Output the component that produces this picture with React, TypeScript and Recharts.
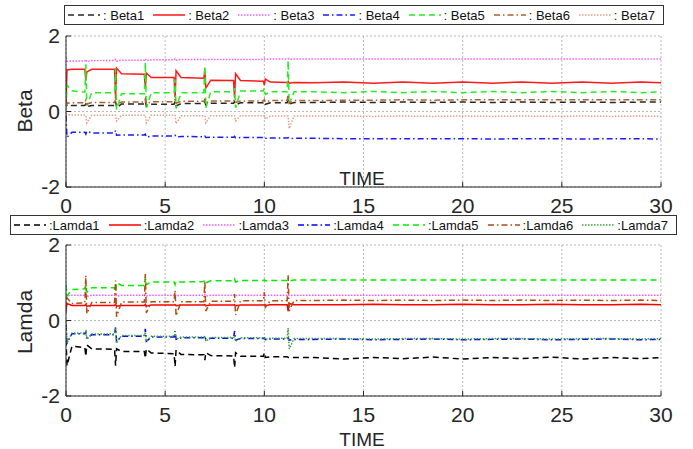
import { LineChart, Line, XAxis, YAxis, CartesianGrid } from "recharts";

// time stamps (s): start-up, 8 switching events, then steady state
const time = [
  0, 0.05, 0.3,
  0.95, 1, 1.05, 1.3,
  2.45, 2.5, 2.55, 2.8,
  3.95, 4, 4.05, 4.3,
  5.45, 5.5, 5.55, 5.8,
  6.95, 7, 7.05, 7.3,
  8.45, 8.5, 8.55, 8.8,
  9.95, 10, 10.05, 10.3,
  11.15, 11.2, 11.25, 11.5,
  12.5, 14, 15.5, 17, 18.5, 20, 21.5, 23, 24.5, 26, 27.5, 29, 30,
];

const beta1 = [
  0.3, 0.14, 0.16,
  0.16, 0.2, 0.13, 0.16,
  0.16, 0.27, 0.1, 0.2,
  0.2, 0.28, 0.14, 0.19,
  0.19, 0.27, 0.15, 0.21,
  0.21, 0.26, 0.17, 0.22,
  0.22, 0.26, 0.18, 0.23,
  0.23, 0.26, 0.19, 0.23,
  0.23, 0.3, 0.2, 0.24,
  0.24, 0.25, 0.24, 0.25, 0.24, 0.25, 0.24, 0.25, 0.24, 0.25, 0.24, 0.25, 0.25,
];
const beta2 = [
  0.2, 1.1, 1.12,
  1.12, 0.82, 1.05, 1.12,
  1.12, 0.33, 1.15, 1.0,
  0.99, 0.6, 1.02, 0.9,
  0.9, 0.37, 1.08, 0.9,
  0.88, 1.1, 0.62, 0.83,
  0.82, 0.36, 1.0, 0.82,
  0.8, 0.7, 0.86, 0.78,
  0.77, 0.8, 0.75, 0.77,
  0.76, 0.78, 0.75, 0.78, 0.75, 0.78, 0.75, 0.78, 0.75, 0.78, 0.75, 0.78, 0.76,
];
const beta3 = [
  1.42, 1.33, 1.34,
  1.34, 1.38, 1.32, 1.35,
  1.35, 1.38, 1.33, 1.36,
  1.36, 1.4, 1.35, 1.37,
  1.37, 1.4, 1.36, 1.38,
  1.38, 1.4, 1.37, 1.38,
  1.38, 1.4, 1.37, 1.38,
  1.38, 1.4, 1.38, 1.39,
  1.39, 1.4, 1.38, 1.39,
  1.39, 1.39, 1.39, 1.39, 1.39, 1.39, 1.39, 1.39, 1.39, 1.39, 1.39, 1.39, 1.39,
];
const beta4 = [
  -0.1, -0.68, -0.55,
  -0.55, -0.6, -0.52, -0.57,
  -0.57, -0.5, -0.63, -0.62,
  -0.62, -0.6, -0.68, -0.65,
  -0.65, -0.63, -0.68, -0.66,
  -0.67, -0.65, -0.69, -0.68,
  -0.68, -0.66, -0.7, -0.69,
  -0.69, -0.68, -0.71, -0.7,
  -0.7, -0.69, -0.72, -0.71,
  -0.71, -0.72, -0.72, -0.72, -0.72, -0.72, -0.73, -0.72, -0.72, -0.73, -0.72, -0.72, -0.73,
];
const beta5 = [
  0.1, 0.7, 0.55,
  0.51, 1.25, 0.15, 0.5,
  0.5, 1.15, 0.05, 0.47,
  0.47, 1.3, 0.1, 0.5,
  0.5, 0.85, 0.08, 0.5,
  0.5, 1.2, 0.1, 0.52,
  0.52, 0.62, 0.1, 0.54,
  0.54, 0.62, 0.45, 0.52,
  0.52, 1.35, 0.2, 0.52,
  0.52, 0.5, 0.53, 0.5, 0.53, 0.5, 0.53, 0.5, 0.53, 0.5, 0.53, 0.5, 0.52,
];
const beta6 = [
  0.3, 0.22, 0.23,
  0.23, 0.3, 0.2, 0.24,
  0.24, 0.32, 0.18, 0.25,
  0.25, 0.33, 0.2, 0.26,
  0.26, 0.33, 0.22, 0.27,
  0.27, 0.32, 0.23, 0.28,
  0.28, 0.32, 0.24, 0.28,
  0.28, 0.32, 0.25, 0.29,
  0.29, 0.45, 0.22, 0.29,
  0.29, 0.3, 0.3, 0.31, 0.3, 0.31, 0.31, 0.31, 0.31, 0.31, 0.31, 0.31, 0.31,
];
const beta7 = [
  -0.05, -0.08, -0.09,
  -0.09, -0.1, -0.3, -0.1,
  -0.1, -0.1, -0.25, -0.1,
  -0.1, -0.1, -0.3, -0.1,
  -0.1, -0.1, -0.32, -0.11,
  -0.11, -0.11, -0.3, -0.11,
  -0.11, -0.11, -0.25, -0.11,
  -0.11, -0.11, -0.2, -0.12,
  -0.12, -0.12, -0.45, -0.12,
  -0.12, -0.12, -0.13, -0.12, -0.13, -0.12, -0.13, -0.12, -0.13, -0.12, -0.13, -0.12, -0.13,
];

const lamda1 = [
  -0.5, -1.2, -0.68,
  -0.72, -0.95, -0.65, -0.75,
  -0.76, -1.2, -0.75, -0.82,
  -0.82, -1.0, -0.75, -0.86,
  -0.88, -1.22, -0.78, -0.9,
  -0.91, -1.05, -0.85, -0.93,
  -0.94, -1.25, -0.85, -0.95,
  -0.95, -0.85, -0.98, -0.96,
  -0.96, -0.98, -0.97, -0.98,
  -0.98, -1.02, -0.98, -1.01, -0.97, -1.02, -0.98, -1.01, -0.97, -1.02, -0.98, -1.01, -0.98,
];
const lamda2 = [
  0.3, 0.45, 0.4,
  0.4, 0.43, 0.38, 0.4,
  0.4, 0.43, 0.38, 0.4,
  0.4, 0.43, 0.38, 0.41,
  0.41, 0.42, 0.39, 0.41,
  0.41, 0.42, 0.39, 0.41,
  0.41, 0.42, 0.39, 0.41,
  0.41, 0.42, 0.4, 0.42,
  0.42, 0.25, 0.45, 0.42,
  0.42, 0.42, 0.43, 0.42, 0.42, 0.43, 0.42, 0.42, 0.43, 0.42, 0.42, 0.43, 0.42,
];
const lamda3 = [
  0.7, 0.66, 0.67,
  0.67, 0.7, 0.64, 0.67,
  0.67, 0.7, 0.64, 0.67,
  0.67, 0.7, 0.65, 0.67,
  0.67, 0.7, 0.65, 0.67,
  0.67, 0.69, 0.65, 0.67,
  0.67, 0.69, 0.66, 0.67,
  0.67, 0.69, 0.66, 0.67,
  0.67, 0.69, 0.66, 0.67,
  0.67, 0.67, 0.67, 0.67, 0.67, 0.67, 0.67, 0.67, 0.67, 0.67, 0.67, 0.67, 0.67,
];
const lamda4 = [
  -0.1, -0.6, -0.35,
  -0.35, -0.3, -0.45, -0.38,
  -0.38, -0.18, -0.55, -0.42,
  -0.42, -0.22, -0.55, -0.44,
  -0.44, -0.28, -0.5, -0.46,
  -0.46, -0.43, -0.5, -0.47,
  -0.47, -0.28, -0.52, -0.48,
  -0.48, -0.46, -0.51, -0.49,
  -0.49, -0.46, -0.52, -0.5,
  -0.5, -0.49, -0.51, -0.5, -0.49, -0.51, -0.5, -0.49, -0.51, -0.5, -0.49, -0.51, -0.5,
];
const lamda5 = [
  0.95, 0.65, 0.82,
  0.84, 0.95, 0.75, 0.87,
  0.87, 0.75, 1.0, 0.93,
  0.93, 1.15, 0.95, 1.02,
  1.02, 0.95, 1.03, 1.02,
  1.03, 1.08, 1.0, 1.05,
  1.05, 1.1, 1.02, 1.06,
  1.06, 1.08, 1.05, 1.06,
  1.06, 1.08, 1.05, 1.07,
  1.07, 1.07, 1.07, 1.07, 1.07, 1.07, 1.07, 1.07, 1.07, 1.07, 1.07, 1.07, 1.07,
];
const lamda6 = [
  0.2, 0.6, 0.45,
  0.47, 1.19, 0.18, 0.48,
  0.48, 1.06, 0.1, 0.49,
  0.49, 1.23, 0.2, 0.5,
  0.5, 0.8, 0.12, 0.5,
  0.5, 1.05, 0.25, 0.51,
  0.51, 0.7, 0.15, 0.52,
  0.52, 0.75, 0.35, 0.52,
  0.52, 1.2, 0.25, 0.53,
  0.53, 0.54, 0.53, 0.54, 0.53, 0.54, 0.53, 0.54, 0.53, 0.54, 0.53, 0.54, 0.53,
];
const lamda7 = [
  0.0, -0.6, -0.33,
  -0.33, -0.3, -0.5, -0.36,
  -0.36, -0.2, -0.6, -0.4,
  -0.4, -0.3, -0.55, -0.42,
  -0.42, -0.35, -0.5, -0.44,
  -0.44, -0.4, -0.55, -0.45,
  -0.45, -0.4, -0.55, -0.46,
  -0.46, -0.44, -0.5, -0.47,
  -0.47, -0.2, -0.75, -0.48,
  -0.48, -0.48, -0.49, -0.48, -0.48, -0.49, -0.48, -0.48, -0.49, -0.48, -0.48, -0.49, -0.48,
];

const betaNames = ["Beta1", "Beta2", "Beta3", "Beta4", "Beta5", "Beta6", "Beta7"];
const lamdaNames = ["Lamda1", "Lamda2", "Lamda3", "Lamda4", "Lamda5", "Lamda6", "Lamda7"];
const xTicks = [0, 5, 10, 15, 20, 25, 30];
const yTicks = [-2, 0, 2];

const DASH = "6 4";
const DOT = "1.5 1.5";
const DASHDOT = "6 3 1.5 3";

type Style = { color: string; dash?: string };

const betaStyles: Style[] = [
  { color: "#262626", dash: DASH },
  { color: "#ff1a1a" },
  { color: "#ff5cff", dash: DOT },
  { color: "#1a1aff", dash: DASHDOT },
  { color: "#22ee22", dash: DASH },
  { color: "#b0602c", dash: DASHDOT },
  { color: "#e0a08a", dash: DOT },
];
const lamdaStyles: Style[] = [
  { color: "#000000", dash: DASH },
  { color: "#ff0000" },
  { color: "#ff55ff", dash: DOT },
  { color: "#0000ff", dash: DASHDOT },
  { color: "#00ee00", dash: DASH },
  { color: "#b04a10", dash: DASHDOT },
  { color: "#3da53d", dash: DOT },
];

const FONT = "'Liberation Sans', Arial, sans-serif";
const INK = "#262626";

const buildRows = (series: number[][]) =>
  time.map((t, i) => {
    const row: Record<string, number> = { t };
    series.forEach((s, k) => {
      row["s" + k] = s[i];
    });
    return row;
  });

const betaRows = buildRows([beta1, beta2, beta3, beta4, beta5, beta6, beta7]);
const lamdaRows = buildRows([lamda1, lamda2, lamda3, lamda4, lamda5, lamda6, lamda7]);

const Legend = ({ names, styles, left, top, width, itemWidth, sep }: any) => (
  <div
    style={{
      position: "absolute",
      left,
      top,
      width,
      height: 20,
      border: "1px solid #333",
      background: "#fff",
      display: "flex",
      alignItems: "center",
      paddingLeft: 2,
      boxSizing: "border-box",
      fontFamily: FONT,
      fontSize: 13,
      color: "#111",
      whiteSpace: "nowrap",
    }}
  >
    {names.map((n: string, i: number) => (
      <div key={n} style={{ width: itemWidth, display: "flex", alignItems: "center" }}>
        <svg width={34} height={10} style={{ marginRight: 2 }}>
          <line x1={1} y1={5} x2={33} y2={5} stroke={styles[i].color} strokeWidth={1.5} strokeDasharray={styles[i].dash} />
        </svg>
        <span>{sep + n}</span>
      </div>
    ))}
  </div>
);

// plot area is always x 66..661, y 36..187 inside each chart's svg
const Panel = ({ rows, styles, top, height }: { rows: any[]; styles: Style[]; top: number; height: number }) => (
  <div style={{ position: "absolute", left: 0, top }}>
    <LineChart width={693} height={height} data={rows} margin={{ top: 36, right: 32, left: 6, bottom: height - 215 }}>
      <CartesianGrid stroke="#b8b8b8" strokeDasharray="2 2" />
      <XAxis
        dataKey="t"
        type="number"
        domain={[0, 30]}
        ticks={xTicks}
        interval={0}
        allowDataOverflow
        height={28}
        tickSize={-5}
        tickMargin={16}
        stroke={INK}
        tick={{ fill: INK, fontSize: 21, fontFamily: FONT }}
      />
      <XAxis xAxisId="top" orientation="top" type="number" domain={[0, 30]} ticks={xTicks} height={0} tickSize={-5} tick={false} stroke={INK} />
      <YAxis
        type="number"
        domain={[-2, 2]}
        ticks={yTicks}
        interval={0}
        allowDataOverflow
        width={60}
        tickSize={-5}
        tickMargin={11}
        stroke={INK}
        tick={{ fill: INK, fontSize: 21, fontFamily: FONT }}
      />
      <YAxis yAxisId="right" orientation="right" type="number" domain={[-2, 2]} ticks={yTicks} width={0} tickSize={-5} tick={false} stroke={INK} />
      {styles.map((s, k) => (
        <Line
          key={k}
          dataKey={"s" + k}
          type="linear"
          stroke={s.color}
          strokeWidth={1.5}
          strokeDasharray={s.dash}
          dot={false}
          isAnimationActive={false}
        />
      ))}
    </LineChart>
  </div>
);

export default function App() {
  return (
    <div style={{ position: "absolute", left: 0, top: 0, width: 693, height: 449, background: "#fff", overflow: "hidden" }}>
      <Panel rows={betaRows} styles={betaStyles} top={0} height={230} />
      <Panel rows={lamdaRows} styles={lamdaStyles} top={209} height={240} />
      <svg width={693} height={449} style={{ position: "absolute", left: 0, top: 0, pointerEvents: "none" }}>
        <g fontFamily={FONT} fill={INK}>
          <text x={362} y={185} fontSize={19} textAnchor="middle">TIME</text>
          <text x={362} y={446} fontSize={19} textAnchor="middle">TIME</text>
          <text transform="translate(32,111) rotate(-90)" fontSize={21} textAnchor="middle">Beta</text>
          <text transform="translate(32,322) rotate(-90)" fontSize={21} textAnchor="middle">Lamda</text>
        </g>
      </svg>
      <Legend names={betaNames} styles={betaStyles} left={64} top={5} width={600} itemWidth={85.5} sep=": " />
      <Legend names={lamdaNames} styles={lamdaStyles} left={10} top={215} width={667} itemWidth={94.8} sep=":" />
    </div>
  );
}
